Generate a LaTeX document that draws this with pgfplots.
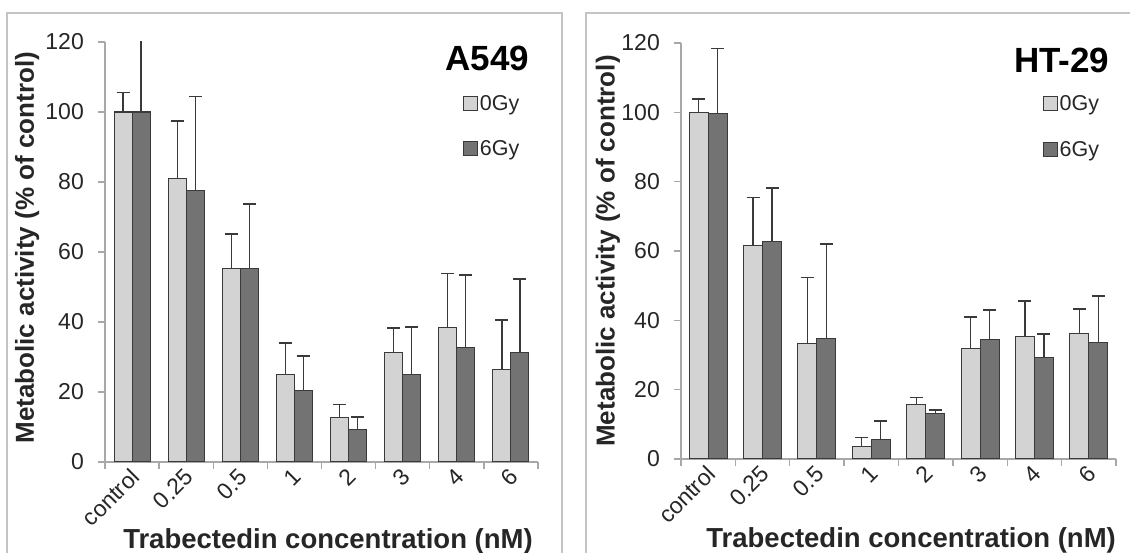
\documentclass[border=0pt]{standalone}
\usepackage{fontspec}
\setmainfont{Liberation Sans}
\usepackage{pgfplots}
\usepackage{pgfplotstable}
\pgfplotsset{compat=1.18}
\definecolor{lightbar}{HTML}{D3D3D3}
\definecolor{darkbar}{HTML}{737373}
\definecolor{barline}{HTML}{3A3A3A}
\definecolor{axisgray}{HTML}{A8A8A8}
\definecolor{framegray}{HTML}{C4C4C4}
\definecolor{txt}{HTML}{262626}

% A549: x, 0Gy mean, 0Gy error, 6Gy mean, 6Gy error
\pgfplotstableread{
x y0 e0 y6 e6
0 100.0 5.6 100.0 22.0
1 81.1 16.3 77.6 26.8
2 55.4 9.7 55.4 18.3
3 25.0 9.0 20.3 10.0
4 12.8 3.6 9.4 3.5
5 31.3 7.0 25.0 13.6
6 38.5 15.3 32.7 20.8
7 26.5 14.1 31.2 21.1
}\tableA

% HT-29
\pgfplotstableread{
x y0 e0 y6 e6
0 100.0 3.8 99.7 18.7
1 61.7 13.7 62.8 15.4
2 33.4 18.9 34.8 27.2
3 3.5 2.7 5.5 5.5
4 15.7 2.0 13.2 0.9
5 31.8 9.1 34.5 8.4
6 35.3 10.3 29.4 6.7
7 36.1 7.2 33.7 13.4
}\tableB

\newcommand\ticksize{\fontsize{23}{27}\selectfont}
\newcommand\legsize{\fontsize{21.5}{25}\selectfont}

\pgfplotsset{
  panel/.style={
    scale only axis, anchor=south west,
    ybar=0pt,
    xmin=-0.5, xmax=7.5, ymin=0, ymax=120,
    ytick={0,20,...,120},
    yticklabel={\ticksize\pgfmathprintnumber[assume math mode=true]{\tick}},
    xtick={-0.5,0.5,...,7.5},
    xticklabels={},
    extra x ticks={0,1,...,7},
    extra x tick labels={{\ticksize control},{\ticksize 0.25},{\ticksize 0.5},{\ticksize 1},{\ticksize 2},{\ticksize 3},{\ticksize 4},{\ticksize 6}},
    extra x tick style={major tick length=0pt,
      xticklabel style={inner sep=0pt, xshift=3pt, yshift=-11pt, rotate=45, anchor=east, text=txt}},
    axis x line*=bottom, axis y line*=left,
    axis line style={draw=axisgray, line width=1.3pt, -},
    tick align=outside,
    major tick length=7pt,
    every tick/.style={draw=axisgray, line width=1.3pt},
    yticklabel style={inner sep=0pt, xshift=-14pt, text=txt},
    ylabel={Metabolic activity (\% of control)},
    xlabel={Trabectedin concentration (nM)},
    ylabel style={rotate=0, anchor=center, font=\bfseries\fontsize{26}{30}\selectfont, text=txt},
    xlabel style={anchor=base, font=\bfseries\fontsize{27.5}{32}\selectfont, text=txt},
    legend image code/.code={\draw[##1] (0pt,-7pt) rectangle (14pt,7pt);},
    legend style={draw=none, fill=none, anchor=north west,
      font=\legsize, text=txt, row sep=29pt,
      inner sep=0pt, nodes={inner xsep=1.5pt, inner ysep=0pt}},
    legend cell align=left,
    clip=true,
  },
  bar0/.style={fill=lightbar, draw=barline, line width=1.1pt,
    error bars/.cd, y dir=plus, y explicit,
    error bar style={draw=barline, line width=1.2pt},
    error mark options={rotate=90, mark size=6.5pt, line width=1.6pt, draw=barline}},
  bar6/.style={fill=darkbar, draw=barline, line width=1.1pt,
    error bars/.cd, y dir=plus, y explicit,
    error bar style={draw=barline, line width=1.2pt},
    error mark options={rotate=90, mark size=6.5pt, line width=1.6pt, draw=barline}},
}

\begin{document}
\begin{tikzpicture}
\path[use as bounding box] (0,0) rectangle (1130pt,553pt);
\draw[framegray, line width=1.4pt] (7pt,-10pt) rectangle (562pt,540pt);
\draw[framegray, line width=1.4pt] (586pt,-10pt) rectangle (1145pt,540pt);

\begin{axis}[panel,
  at={(105pt,91pt)}, width=433pt, height=420pt,
  bar width=18pt,
  ylabel style={at={(axis description cs:-0.18,0.51)}},
  xlabel style={at={(axis description cs:0.515,-0.205)}},
  legend style={at={(axis description cs:0.827,0.874)}},
]
\addplot[bar0] table[x=x, y=y0, y error=e0]{\tableA};
\addplot[bar6] table[x=x, y=y6, y error=e6]{\tableA};
\legend{{\legsize 0Gy},{\legsize 6Gy}}
\node[anchor=base east, font=\bfseries\fontsize{35}{40}\selectfont, text=black] at (rel axis cs:0.988,0.931) {A549};
\end{axis}

\begin{axis}[panel,
  at={(681pt,94pt)}, width=435pt, height=416pt,
  bar width=19pt,
  ylabel style={at={(axis description cs:-0.168,0.5)}},
  xlabel style={at={(axis description cs:0.529,-0.213)}},
  legend style={at={(axis description cs:0.832,0.874)}},
]
\addplot[bar0] table[x=x, y=y0, y error=e0]{\tableB};
\addplot[bar6] table[x=x, y=y6, y error=e6]{\tableB};
\legend{{\legsize 0Gy},{\legsize 6Gy}}
\node[anchor=base east, font=\bfseries\fontsize{35}{40}\selectfont, text=black] at (rel axis cs:0.993,0.930) {HT-29};
\end{axis}
\end{tikzpicture}
\end{document}
